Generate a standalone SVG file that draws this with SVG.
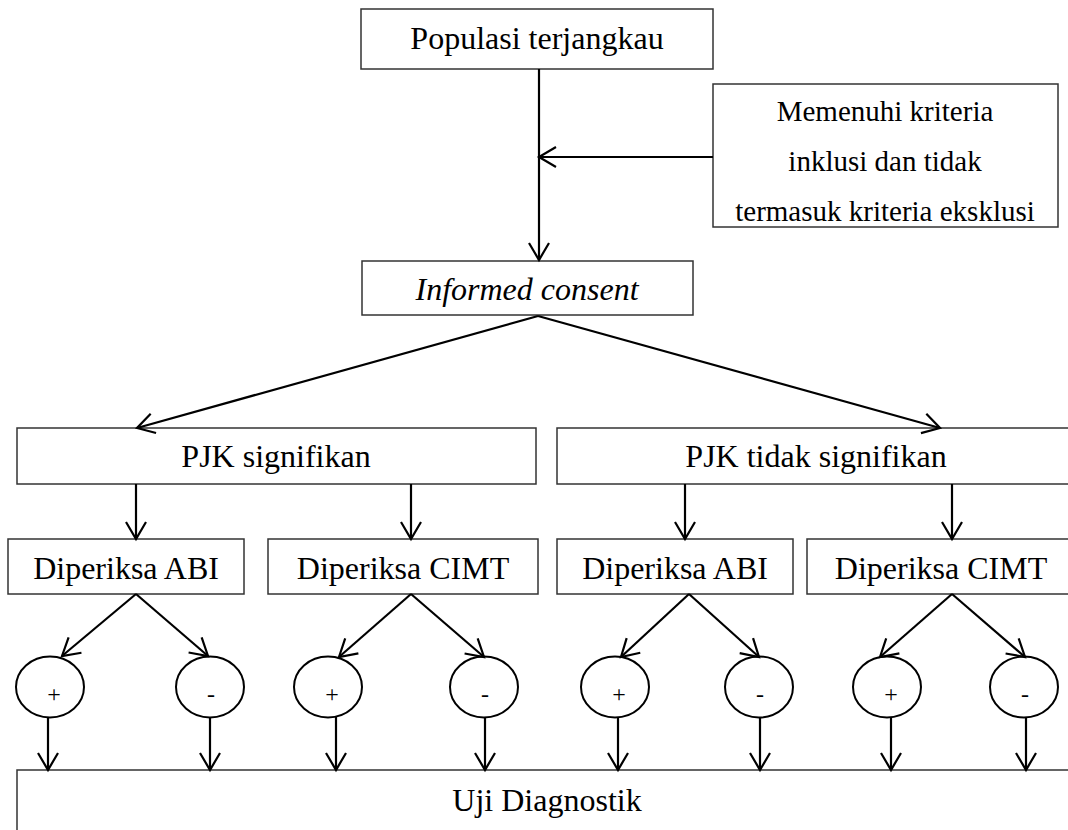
<svg xmlns="http://www.w3.org/2000/svg" width="1068" height="830" viewBox="0 0 1068 830">
<style>
.box{fill:#fff;stroke:#333;stroke-width:1.5}
.t{font-family:"Liberation Serif","Times New Roman",serif;font-size:32px;fill:#000;text-anchor:middle}
.tc{font-family:"Liberation Serif","Times New Roman",serif;font-size:29px;fill:#000;text-anchor:middle}
.ts{font-family:"Liberation Serif","Times New Roman",serif;font-size:24px;fill:#000;text-anchor:middle}
.c{fill:none;stroke:#000;stroke-width:2.2}
.e{fill:#fff;stroke:#000;stroke-width:2}
</style>
<defs>
<marker id="arr" viewBox="0 0 20 22" refX="18" refY="11" markerWidth="20" markerHeight="22" markerUnits="userSpaceOnUse" orient="auto" overflow="visible">
<path d="M1,1 L18,11 L1,21" fill="none" stroke="#000" stroke-width="2.2"/>
</marker>
</defs>
<g id="n-populasi"><rect class="box" x="361" y="9" width="352" height="60"/><text class="t" x="537" y="49">Populasi terjangkau</text></g>
<g id="n-kriteria"><rect class="box" x="713" y="84" width="345" height="143"/>
<text class="tc" x="885" y="121">Memenuhi kriteria</text>
<text class="tc" x="885" y="171">inklusi dan tidak</text>
<text class="tc" x="885" y="221">termasuk kriteria eksklusi</text></g>
<g id="n-informed"><rect class="box" x="362" y="261" width="331" height="54"/><text class="t" x="527" y="300" font-style="italic">Informed consent</text></g>
<g id="n-pjk-sig"><rect class="box" x="17" y="428" width="519" height="56"/><text class="t" x="276" y="467">PJK signifikan</text></g>
<g id="n-pjk-tidak"><rect class="box" x="557" y="428" width="518" height="56"/><text class="t" x="816" y="467">PJK tidak signifikan</text></g>
<g id="n-abi1"><rect class="box" x="8" y="539" width="236" height="55"/><text class="t" x="126" y="579">Diperiksa ABI</text></g>
<g id="n-cimt1"><rect class="box" x="268" y="539" width="270" height="55"/><text class="t" x="403" y="579">Diperiksa CIMT</text></g>
<g id="n-abi2"><rect class="box" x="557" y="539" width="236" height="55"/><text class="t" x="675" y="579">Diperiksa ABI</text></g>
<g id="n-cimt2"><rect class="box" x="807" y="539" width="268" height="55"/><text class="t" x="941" y="579">Diperiksa CIMT</text></g>
<g id="n-c1"><ellipse class="e" cx="50" cy="687" rx="34" ry="30.5"/><text class="ts" x="54" y="702">+</text></g>
<g id="n-c2"><ellipse class="e" cx="210" cy="687" rx="34" ry="30.5"/><text class="ts" x="211" y="702">-</text></g>
<g id="n-c3"><ellipse class="e" cx="328" cy="687" rx="34" ry="30.5"/><text class="ts" x="332" y="702">+</text></g>
<g id="n-c4"><ellipse class="e" cx="484" cy="687" rx="34" ry="30.5"/><text class="ts" x="485" y="702">-</text></g>
<g id="n-c5"><ellipse class="e" cx="615" cy="687" rx="34" ry="30.5"/><text class="ts" x="619" y="702">+</text></g>
<g id="n-c6"><ellipse class="e" cx="759" cy="687" rx="34" ry="30.5"/><text class="ts" x="760" y="702">-</text></g>
<g id="n-c7"><ellipse class="e" cx="887" cy="687" rx="34" ry="30.5"/><text class="ts" x="891" y="702">+</text></g>
<g id="n-c8"><ellipse class="e" cx="1024" cy="687" rx="34" ry="30.5"/><text class="ts" x="1025" y="702">-</text></g>
<g id="n-uji"><rect class="box" x="17" y="770" width="1062" height="80"/><text class="t" x="547" y="811">Uji Diagnostik</text></g>
<g id="connectors">
<path class="c" d="M539,69 V260" marker-end="url(#arr)"/>
<path class="c" d="M713,157 H539" marker-end="url(#arr)"/>
<path class="c" d="M538,316 L137,428" marker-end="url(#arr)"/>
<path class="c" d="M538,316 L940,428" marker-end="url(#arr)"/>
<path class="c" d="M136,484 V539" marker-end="url(#arr)"/>
<path class="c" d="M411,484 V539" marker-end="url(#arr)"/>
<path class="c" d="M685,484 V539" marker-end="url(#arr)"/>
<path class="c" d="M952,484 V539" marker-end="url(#arr)"/>
<path class="c" d="M136,594 L62,656" marker-end="url(#arr)"/>
<path class="c" d="M136,594 L208,656" marker-end="url(#arr)"/>
<path class="c" d="M411,594 L339,657" marker-end="url(#arr)"/>
<path class="c" d="M411,594 L484,657" marker-end="url(#arr)"/>
<path class="c" d="M689,594 L621,657" marker-end="url(#arr)"/>
<path class="c" d="M689,594 L759,657" marker-end="url(#arr)"/>
<path class="c" d="M952,594 L880,657" marker-end="url(#arr)"/>
<path class="c" d="M952,594 L1025,657" marker-end="url(#arr)"/>
<path class="c" d="M48,717 V770" marker-end="url(#arr)"/>
<path class="c" d="M210,717 V770" marker-end="url(#arr)"/>
<path class="c" d="M336,717 V770" marker-end="url(#arr)"/>
<path class="c" d="M485,717 V770" marker-end="url(#arr)"/>
<path class="c" d="M618,717 V770" marker-end="url(#arr)"/>
<path class="c" d="M760,717 V770" marker-end="url(#arr)"/>
<path class="c" d="M891,717 V770" marker-end="url(#arr)"/>
<path class="c" d="M1026,717 V770" marker-end="url(#arr)"/>
</g>
</svg>
